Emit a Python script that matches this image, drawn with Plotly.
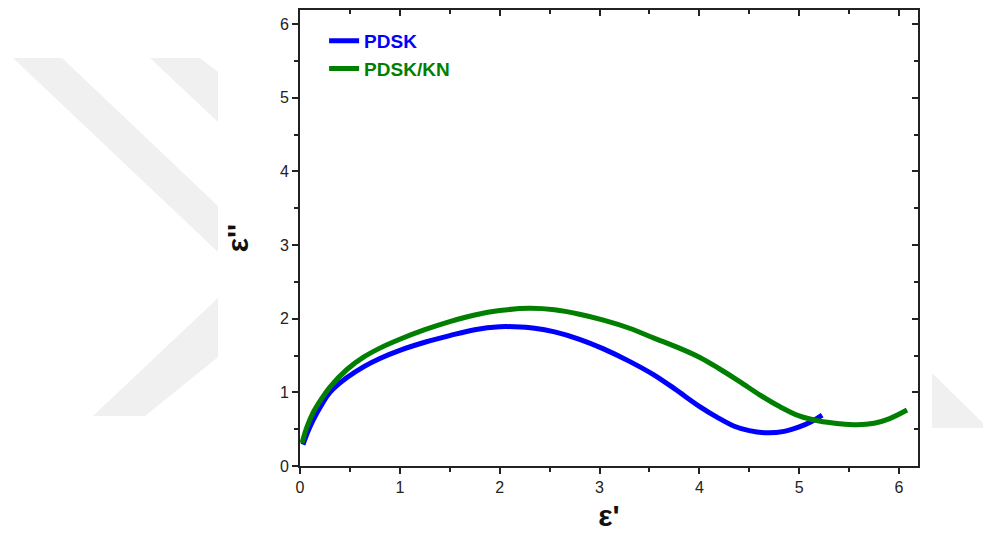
import plotly.graph_objects as go

# Cole-Cole data: real part (eps') and imaginary part (eps'') of permittivity
pdsk_eps_re = [0.03, 0.08, 0.13, 0.22, 0.30, 0.47, 0.64, 0.80, 1.00, 1.25, 1.50,
               1.75, 2.00, 2.15, 2.35, 2.55, 2.80, 3.04, 3.30, 3.54, 3.75, 4.00,
               4.18, 4.35, 4.50, 4.68, 4.85, 5.00, 5.12, 5.23]
pdsk_eps_im = [0.29, 0.47, 0.62, 0.84, 1.00, 1.20, 1.35, 1.46, 1.57, 1.68, 1.77,
               1.85, 1.89, 1.89, 1.87, 1.82, 1.72, 1.59, 1.42, 1.24, 1.05, 0.81,
               0.66, 0.54, 0.48, 0.45, 0.47, 0.53, 0.60, 0.69]

kn_eps_re = [0.02, 0.07, 0.13, 0.22, 0.30, 0.47, 0.64, 0.80, 1.00, 1.25, 1.50,
             1.75, 2.00, 2.30, 2.55, 2.80, 3.04, 3.30, 3.54, 3.80, 4.01, 4.20,
             4.40, 4.60, 4.80, 5.00, 5.20, 5.40, 5.58, 5.75, 5.90, 6.08]
kn_eps_im = [0.31, 0.53, 0.72, 0.92, 1.07, 1.31, 1.48, 1.60, 1.72, 1.85, 1.96,
             2.05, 2.11, 2.14, 2.12, 2.06, 1.98, 1.87, 1.74, 1.60, 1.47, 1.32,
             1.15, 0.97, 0.81, 0.68, 0.61, 0.575, 0.56, 0.58, 0.64, 0.76]

series_names = ["PDSK", "PDSK/KN"]
series_colors = ["#0000FF", "#007F00"]

W, H = 983, 540
M_L, M_R, M_T, M_B = 300, 65, 10, 74
X_RANGE = [0, 6.19]
Y_RANGE = [0, 6.19]

fig = go.Figure()
for name, color, xs, ys in zip(series_names, series_colors,
                               [pdsk_eps_re, kn_eps_re],
                               [pdsk_eps_im, kn_eps_im]):
    fig.add_trace(go.Scatter(
        x=xs, y=ys, mode="lines",
        line=dict(color=color, width=5, shape="spline", smoothing=1.0),
        name=f'<span style="color:{color}"><b>{name}</b></span>',
    ))

# empty trace so the mirrored top/right axes get drawn
fig.add_trace(go.Scatter(x=[], y=[], xaxis="x2", yaxis="y2",
                         showlegend=False, hoverinfo="skip"))

tick_font = dict(family="Liberation Sans, Arial, sans-serif", size=16, color="#222")
title_font = dict(family="Liberation Sans, Arial, sans-serif", size=30, color="#111")
axis_common = dict(showgrid=False, zeroline=False, showline=True,
                   linecolor="#222", linewidth=2, tickcolor="#222",
                   tickwidth=1.5, ticklen=6)
minor_out = dict(dtick=0.5, ticks="outside", ticklen=4, tickcolor="#222", tickwidth=1.5)
minor_in = dict(dtick=0.5, ticks="inside", ticklen=4, tickcolor="#222", tickwidth=1.5)

fig.update_layout(
    width=W, height=H,
    margin=dict(l=M_L, r=M_R, t=M_T, b=M_B),
    paper_bgcolor="white", plot_bgcolor="white",
    showlegend=True,
    legend=dict(x=0.039, y=0.974, xanchor="left", yanchor="top",
                bgcolor="rgba(0,0,0,0)", borderwidth=0,
                font=dict(family="Liberation Sans, Arial, sans-serif", size=19),
                tracegroupgap=0),
    xaxis=dict(range=X_RANGE, dtick=1, tick0=0, ticks="outside",
               tickfont=tick_font, minor=minor_out,
               title=dict(text="<b>\u03b5'</b>", font=title_font, standoff=10),
               **axis_common),
    yaxis=dict(range=Y_RANGE, dtick=1, tick0=0, ticks="outside",
               tickfont=tick_font, minor=minor_out,
               title=dict(text="<b>\u03b5''</b>", font=title_font, standoff=22),
               **axis_common),
    xaxis2=dict(range=X_RANGE, dtick=1, tick0=0, overlaying="x", side="top",
                anchor="y2", ticks="inside", showticklabels=False,
                minor=minor_in, **axis_common),
    yaxis2=dict(range=Y_RANGE, dtick=1, tick0=0, overlaying="y", side="right",
                anchor="x2", ticks="inside", showticklabels=False,
                minor=minor_in, **axis_common),
)

# faint background emblem around the figure frame (pixel outline -> paper coords)
def to_paper(px, py):
    pw = W - M_L - M_R
    ph = H - M_T - M_B
    return (px - M_L) / pw, (H - M_B - py) / ph

emblem_pieces = [
    [(13, 58), (62, 58), (218, 206), (218, 252)],
    [(150, 58), (200, 58), (218, 72), (218, 122)],
    [(218, 298), (93, 416), (145, 416), (218, 357)],
    [(932, 373), (983, 423), (983, 428), (932, 428)],
]
for piece in emblem_pieces:
    pts = [to_paper(px, py) for px, py in piece]
    path = "M " + " L ".join(f"{x:.4f},{y:.4f}" for x, y in pts) + " Z"
    fig.add_shape(type="path", path=path, xref="paper", yref="paper",
                  fillcolor="#f0f0f0", line=dict(width=0), layer="below")

fig.write_html("out.html")
